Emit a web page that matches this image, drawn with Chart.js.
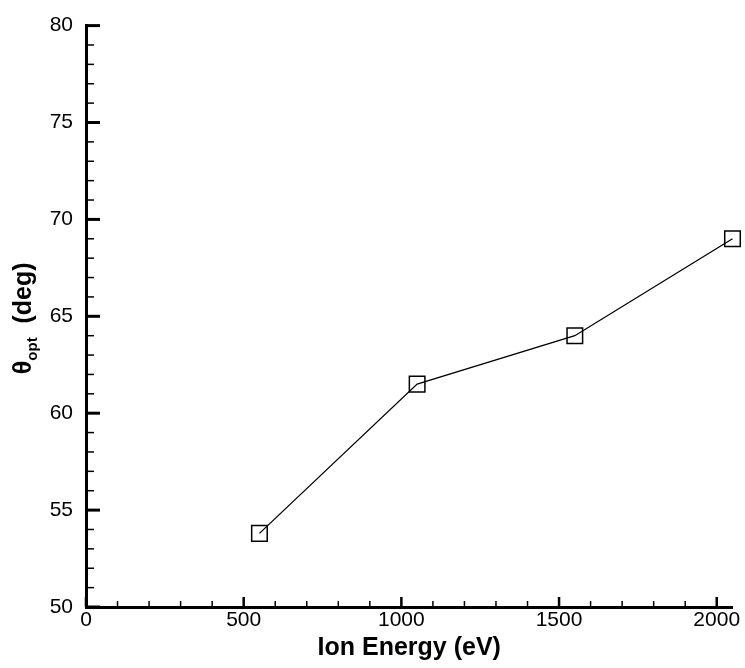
<!DOCTYPE html>
<html>
<head>
<meta charset="utf-8">
<script src="https://cdn.jsdelivr.net/npm/chart.js@4.4.1/dist/chart.umd.min.js"></script>
<style>
  html, body { margin: 0; padding: 0; background: #fff; }
</style>
</head>
<body>
<canvas id="chart" width="745" height="668"></canvas>
<script>
// data
const ionEnergy = [550, 1050, 1550, 2050];
const thetaOpt = [53.8, 61.5, 64.0, 69.0];

// tick labels
const xTickValues = [0, 500, 1000, 1500, 2000];
const yTickValues = [50, 55, 60, 65, 70, 75, 80];

const FONT = "'Liberation Sans', Arial, Helvetica, sans-serif";

// inward tick marks, major + minor, drawn off the chart's own scales
const tickMarks = {
  id: 'tickMarks',
  afterDatasetsDraw(chart) {
    const { ctx, scales } = chart;
    const x = scales.x, y = scales.y;
    const bottom = y.getPixelForValue(y.min);
    const left = x.getPixelForValue(x.min);
    ctx.save();
    ctx.strokeStyle = '#000';
    for (let v = 0; v <= x.max; v += 100) {
      const px = x.getPixelForValue(v);
      const major = v % 500 === 0;
      ctx.lineWidth = major ? 2.5 : 1.5;
      ctx.beginPath();
      ctx.moveTo(px, bottom);
      ctx.lineTo(px, bottom - (major ? 10 : 6));
      ctx.stroke();
    }
    for (let v = y.min; v <= y.max; v += 1) {
      const py = y.getPixelForValue(v);
      const major = v % 5 === 0;
      ctx.lineWidth = major ? 3 : 1.5;
      ctx.beginPath();
      ctx.moveTo(left, py);
      ctx.lineTo(left + (major ? 14 : 8), py);
      ctx.stroke();
    }
    ctx.restore();
  }
};

// y title with subscript: theta_opt (deg)
const yTitle = {
  id: 'yTitle',
  afterDraw(chart) {
    const { ctx, chartArea } = chart;
    const big = 'bold 25px ' + FONT;
    const small = 'bold 15px ' + FONT;
    const parts = [
      { t: '\u03B8', f: big, dy: 0 },
      { t: 'opt', f: small, dy: 6 },
      { t: '  (deg)', f: big, dy: 0 }
    ];
    let total = 0;
    parts.forEach(p => { ctx.font = p.f; p.w = ctx.measureText(p.t).width; total += p.w; });
    ctx.save();
    ctx.translate(31, (chartArea.top + chartArea.bottom) / 2 + 2);
    ctx.rotate(-Math.PI / 2);
    ctx.fillStyle = '#000';
    ctx.textBaseline = 'alphabetic';
    ctx.textAlign = 'left';
    let cx = -total / 2;
    parts.forEach(p => {
      ctx.font = p.f;
      ctx.fillText(p.t, cx, p.dy);
      cx += p.w;
    });
    ctx.restore();
  }
};

new Chart(document.getElementById('chart'), {
  type: 'line',
  data: {
    datasets: [{
      data: ionEnergy.map((e, i) => ({ x: e, y: thetaOpt[i] })),
      borderColor: '#000',
      borderWidth: 1.3,
      pointStyle: 'rect',
      pointRadius: 11,
      pointBorderWidth: 1.5,
      pointBorderColor: '#000',
      pointBackgroundColor: 'rgba(0,0,0,0)',
      tension: 0,
      clip: false
    }]
  },
  options: {
    responsive: false,
    animation: false,
    devicePixelRatio: 1,
    layout: { padding: { top: 18, right: 12, left: 0, bottom: 0 } },
    plugins: { legend: { display: false }, tooltip: { enabled: false } },
    scales: {
      x: {
        type: 'linear',
        min: 0,
        max: 2050,
        afterBuildTicks: s => { s.ticks = xTickValues.map(v => ({ value: v })); },
        afterFit: s => { s.height = 61; },
        grid: { display: false, drawTicks: false },
        border: { display: true, color: '#000', width: 3 },
        ticks: {
          color: '#000', padding: 1, maxRotation: 0,
          font: { family: FONT, size: 21 },
          callback: v => String(v)
        },
        title: {
          display: true,
          text: 'Ion Energy (eV)',
          color: '#000',
          font: { family: FONT, size: 25, weight: 'bold' },
          padding: { top: 0, bottom: 5 }
        }
      },
      y: {
        type: 'linear',
        min: 50,
        max: 80,
        afterBuildTicks: s => { s.ticks = yTickValues.map(v => ({ value: v })); },
        afterFit: s => { s.width = 86; },
        grid: { display: false, drawTicks: false },
        border: { display: true, color: '#000', width: 3 },
        ticks: { color: '#000', padding: 13, font: { family: FONT, size: 21 }, callback: v => String(v) }
      }
    }
  },
  plugins: [tickMarks, yTitle]
});
</script>
</body>
</html>
